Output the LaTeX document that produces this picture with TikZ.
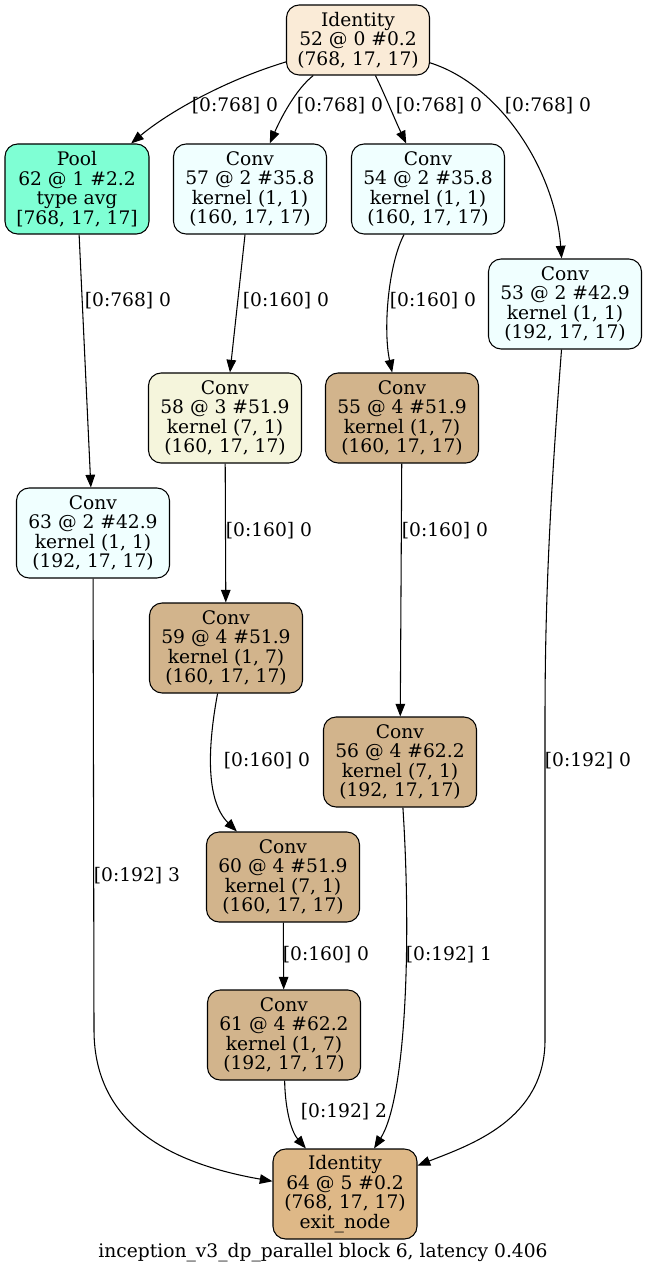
\documentclass[tikz,border=0pt]{standalone}
\usepackage{fontspec}
\setmainfont{DejaVu Serif}
\usetikzlibrary{arrows.meta}
\definecolor{cAntique}{HTML}{FAEBD7}
\definecolor{cAqua}{HTML}{7FFFD4}
\definecolor{cAzure}{HTML}{F0FFFF}
\definecolor{cBeige}{HTML}{F5F5DC}
\definecolor{cTan}{HTML}{D2B48C}
\definecolor{cBurly}{HTML}{DEB887}
\tikzset{
  x=0.75pt, y=-0.75pt,
  gtext/.style={font=\fontsize{14}{14.7}\selectfont},
  box/.style={draw, line width=0.8pt, rounded corners=9.5pt, align=center, inner sep=0pt,
    minimum width=114.75pt, minimum height=67.5pt, gtext},
  edge/.style={draw, line width=0.8pt, -{Triangle[length=9.5pt,width=7.2pt]}},
  elabel/.style={gtext, inner sep=0pt}
}
\begin{document}
\begin{tikzpicture}
\useasboundingbox (0,0) rectangle (647,1276);
% nodes
\node[box, fill=cAntique, minimum width=107.25pt, minimum height=52.5pt] (n52) at (358,40) {Identity\\52 @ 0 \#0.2\\(768, 17, 17)};
\node[box, fill=cAqua, minimum width=108pt] (n62) at (77,189) {Pool\\62 @ 1 \#2.2\\type avg\\{[}768, 17, 17{]}};
\node[box, fill=cAzure] (n57) at (250,189) {Conv\\57 @ 2 \#35.8\\kernel (1, 1)\\(160, 17, 17)};
\node[box, fill=cAzure] (n54) at (428,189) {Conv\\54 @ 2 \#35.8\\kernel (1, 1)\\(160, 17, 17)};
\node[box, fill=cAzure] (n53) at (565,304) {Conv\\53 @ 2 \#42.9\\kernel (1, 1)\\(192, 17, 17)};
\node[box, fill=cBeige] (n58) at (225,418) {Conv\\58 @ 3 \#51.9\\kernel (7, 1)\\(160, 17, 17)};
\node[box, fill=cTan] (n55) at (402,418) {Conv\\55 @ 4 \#51.9\\kernel (1, 7)\\(160, 17, 17)};
\node[box, fill=cAzure] (n63) at (93,533) {Conv\\63 @ 2 \#42.9\\kernel (1, 1)\\(192, 17, 17)};
\node[box, fill=cTan] (n59) at (226,648) {Conv\\59 @ 4 \#51.9\\kernel (1, 7)\\(160, 17, 17)};
\node[box, fill=cTan] (n56) at (400,762) {Conv\\56 @ 4 \#62.2\\kernel (7, 1)\\(192, 17, 17)};
\node[box, fill=cTan] (n60) at (283,877) {Conv\\60 @ 4 \#51.9\\kernel (7, 1)\\(160, 17, 17)};
\node[box, fill=cTan] (n61) at (284,1035) {Conv\\61 @ 4 \#62.2\\kernel (1, 7)\\(192, 17, 17)};
\node[box, fill=cBurly, minimum width=108pt] (n64) at (345,1194) {Identity\\64 @ 5 \#0.2\\(768, 17, 17)\\exit\_node};
\node[gtext, inner sep=0pt] (cap) at (323,1253) {inception\_v3\_dp\_parallel block 6, latency 0.406};
% helper coordinates
\coordinate (c63) at (94,1030);
\coordinate (c53a) at (545,720);
\coordinate (c53b) at (545,1040);
% edges
\draw[edge] (n52) .. controls (220,82) and (165,115) .. (n62);
\draw[edge] (n52) .. controls (295,90) and (280,120) .. (n57);
\draw[edge] (n52) .. controls (385,95) and (395,120) .. (n54);
\draw[edge] (n52) .. controls (500,85) and (555,170) .. (n53);
\draw[edge] (n62) -- (n63);
\draw[edge] (n57) -- (n58);
\draw[edge] (n54) .. controls (388,265) and (383,330) .. (n55);
\draw[edge] (n58) -- (n59);
\draw[edge] (n55) -- (n56);
\draw[edge] (n59) .. controls (208,745) and (205,800) .. (n60);
\draw[edge] (n60) -- (n61);
\draw[edge] (n61) .. controls (285,1105) and (290,1130) .. (n64);
\draw[edge] (n56) .. controls (412,950) and (405,1100) .. (n64);
\draw[edge] (n63) -- (c63) .. controls (94,1130) and (180,1165) .. (n64);
\draw[edge] (n53) .. controls (550,500) and (545,600) .. (c53a) -- (c53b) .. controls (545,1120) and (470,1145) .. (n64);
% edge labels
\node[elabel] (l1) at (235,106) {{[}0:768{]} 0};
\node[elabel] (l2) at (340,106) {{[}0:768{]} 0};
\node[elabel] (l3) at (439,106) {{[}0:768{]} 0};
\node[elabel] (l4) at (548,106) {{[}0:768{]} 0};
\node[elabel] (l5) at (128,301) {{[}0:768{]} 0};
\node[elabel] (l6) at (286,301) {{[}0:160{]} 0};
\node[elabel] (l7) at (433,301) {{[}0:160{]} 0};
\node[elabel] (l8) at (269,531) {{[}0:160{]} 0};
\node[elabel] (l9) at (445,531) {{[}0:160{]} 0};
\node[elabel] (l10) at (267,761) {{[}0:160{]} 0};
\node[elabel] (l11) at (588,761) {{[}0:192{]} 0};
\node[elabel] (l12) at (137,876) {{[}0:192{]} 3};
\node[elabel] (l13) at (326,955) {{[}0:160{]} 0};
\node[elabel] (l14) at (449,955) {{[}0:192{]} 1};
\node[elabel] (l15) at (344,1112) {{[}0:192{]} 2};
\end{tikzpicture}
\end{document}
